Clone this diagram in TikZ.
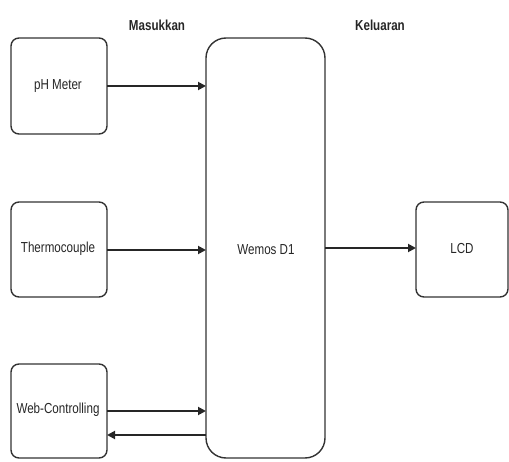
\documentclass[tikz,border=0pt]{standalone}
\usepackage{fontspec}
\setmainfont{Liberation Sans}
\usetikzlibrary{arrows.meta}
\begin{document}
\begin{tikzpicture}[x=1pt,y=-1pt,
  box/.style={draw=black!80,line width=1.4pt,rounded corners=8pt},
  lbl/.style={font=\fontsize{14.5}{16}\selectfont,xscale=0.8,text=black!85},
  hdr/.style={font=\bfseries\fontsize{14.5}{16}\selectfont,xscale=0.8,text=black!85},
  conn/.style={draw=black!85,line width=1.8pt,-{Triangle[length=8pt,width=8pt]}}]
\useasboundingbox (0,0) rectangle (509,462);
\draw[box] (11,38) rectangle (107,134);
\draw[box] (11,202) rectangle (107,297);
\draw[box] (11,364) rectangle (107,458);
\draw[box] (416,202) rectangle (508,297);
\draw[box,rounded corners=20pt] (206,38) rectangle (325,458);
\node[lbl] (ph) at (58,86) {pH Meter};
\node[lbl] (th) at (58,249) {Thermocouple};
\node[lbl] (web) at (58,410) {Web-Controlling};
\node[lbl] (lcd) at (462,249) {LCD};
\node[lbl] (wem) at (266,250) {Wemos D1};
\node[hdr] (mas) at (157,25) {Masukkan};
\node[hdr] (kel) at (380,25) {Keluaran};
\coordinate (phR) at (107,86);
\coordinate (phW) at (206,86);
\coordinate (thR) at (107,250);
\coordinate (thW) at (206,250);
\coordinate (webR1) at (107,411);
\coordinate (webW1) at (206,411);
\coordinate (webR2) at (107,435);
\coordinate (webW2) at (206,435);
\coordinate (wR) at (325,248);
\coordinate (lcdL) at (416,248);
\draw[conn] (phR) -- (phW);
\draw[conn] (thR) -- (thW);
\draw[conn] (webR1) -- (webW1);
\draw[conn] (webW2) -- (webR2);
\draw[conn] (wR) -- (lcdL);
\end{tikzpicture}
\end{document}
